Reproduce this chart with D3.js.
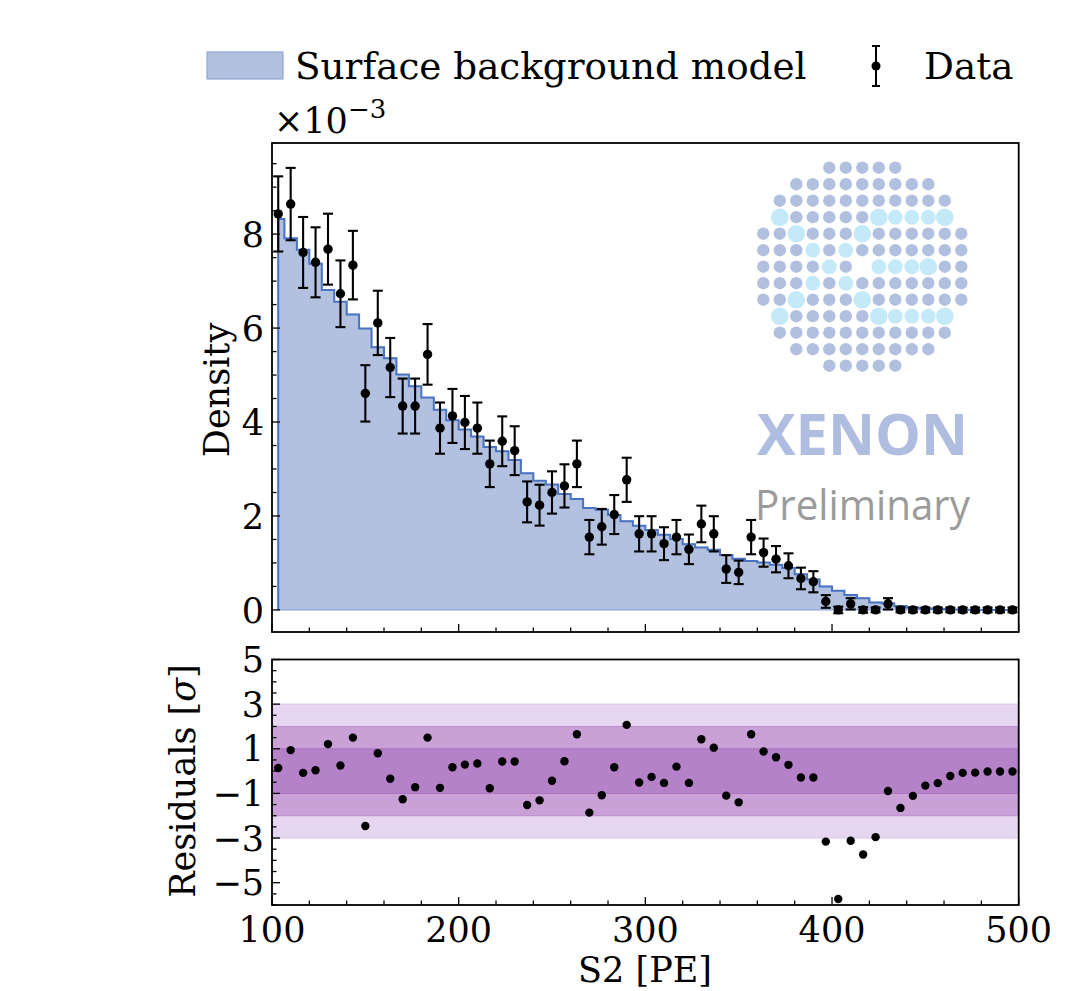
<!DOCTYPE html>
<html><head><meta charset="utf-8">
<script src="https://cdn.jsdelivr.net/npm/d3@7"></script>
<style>html,body{margin:0;padding:0;background:#fff}</style>
</head><body>
<svg id="c" width="1075" height="991"></svg>
<script>
// ---- data (density in units of 1e-3) ----
const binLo = 100, binHi = 500, nBins = 60;
const dataVals = [8.43,8.64,7.61,7.40,7.68,6.73,7.34,4.61,6.11,5.16,
  4.34,4.34,5.44,3.87,4.13,3.99,3.87,3.11,3.59,3.39,
  2.30,2.23,2.50,2.64,3.11,1.55,1.77,2.03,2.77,1.62,
  1.62,1.41,1.55,1.29,1.83,1.62,0.87,0.80,1.55,1.22,
  1.08,0.94,0.67,0.60,0.18,0.00,0.13,0.00,0.00,0.13,
  0,0,0,0,0,0,0,0,0,0];
const dataErr = [0.80,0.77,0.755,0.745,0.755,0.71,0.73,0.60,0.685,0.63,
  0.585,0.585,0.645,0.545,0.575,0.565,0.545,0.495,0.53,0.52,
  0.435,0.435,0.45,0.46,0.495,0.365,0.38,0.415,0.47,0.375,
  0.375,0.35,0.365,0.315,0.39,0.375,0.295,0.25,0.365,0.30,
  0.28,0.265,0.23,0.225,0.135,0.07,0.12,0.06,0.05,0.12,
  0.05,0.05,0.05,0.05,0.05,0.05,0.05,0.05,0.05,0.05];
const modelVals = [8.32,7.91,7.67,7.37,6.81,6.56,6.29,5.99,5.59,5.36,
  5.01,4.76,4.52,4.26,4.04,3.84,3.69,3.47,3.38,3.19,
  2.91,2.75,2.67,2.47,2.36,2.17,2.13,2.02,1.89,1.79,
  1.70,1.60,1.51,1.40,1.33,1.28,1.17,1.09,1.04,1.01,
  0.96,0.89,0.76,0.65,0.50,0.41,0.32,0.25,0.16,0.14,
  0.085,0.05,0.03,0.02,0.01,0.005,0,0,0,0];
const residVals = [0.14,0.94,-0.08,0.04,1.21,0.25,1.50,-2.46,0.80,-0.34,
  -1.26,-0.72,1.50,-0.75,0.17,0.29,0.34,-0.77,0.43,0.43,
  -1.52,-1.31,-0.43,0.44,1.65,-1.86,-1.08,0.17,2.07,-0.51,
  -0.26,-0.53,0.20,-0.53,1.43,1.05,-1.10,-1.40,1.65,0.88,
  0.62,0.28,-0.29,-0.29,-3.16,-5.73,-3.12,-3.74,-2.96,-0.89,
  -1.65,-1.11,-0.65,-0.54,-0.22,-0.08,-0.07,-0.02,-0.02,-0.02];
const xTicks = [100,200,300,400,500];
const yTicksTop = [0,2,4,6,8];
const yTicksRes = [5,3,1,-1,-3,-5];
const sigmaBands = [3,2,1];
// logo pattern: o = normal dot, L = light dot, B = big light dot
const logoRows = [
  "....ooooo....",
  "..ooooooooo..",
  ".ooooooooooo.",
  ".BoooooBLLLB.",
  "ooBoooBoooooo",
  "oooLoLooooooo",
  "ooooLo.LLLBoo",
  "oooLoLooooooo",
  "ooBoooBoooooo",
  ".BoooooBLLLB.",
  ".ooooooooooo.",
  "..ooooooooo..",
  "....ooooo...."];

const centers = d3.range(nBins).map(i => binLo + (i + 0.5) * (binHi - binLo) / nBins);

const svg = d3.select("#c");
const FONT = "DejaVu Serif";
const L = 272, R = 1018.7;
const x = d3.scaleLinear().domain([100, 500]).range([L, R]);
const yT = d3.scaleLinear().domain([-0.47, 9.94]).range([632, 143]);
const yR = d3.scaleLinear().domain([-6, 5]).range([905, 659.5]);

svg.append("rect").attr("width",1075).attr("height",991).attr("fill","#fff");

// ---- top panel ----
const gTop = svg.append("g");
const stepData = centers.map((c,i)=>({c, v: modelVals[i]}));
const area = d3.area().curve(d3.curveStep).x(d=>x(d.c)).y0(yT(0)).y1(d=>yT(d.v));
gTop.append("path").datum(stepData).attr("d", area)
  .attr("fill","#b1c1df").attr("stroke","#8ea8d8").attr("stroke-width",1.2);
const line = d3.line().curve(d3.curveStep).x(d=>x(d.c)).y(d=>yT(d.v));
gTop.append("path").datum([{c:centers[0],v:0}].concat(stepData)).attr("d", line)
  .attr("fill","none").attr("stroke","#4a74c2").attr("stroke-width",2);

// logo
const logo = gTop.append("g");
logoRows.forEach((row, r) => {
  row.split("").forEach((ch, cI) => {
    if (ch === ".") return;
    logo.append("circle")
      .attr("cx", 763.3 + cI * 16.5).attr("cy", 167.7 + r * 16.5)
      .attr("r", ch === "o" ? 6.2 : ch === "L" ? 7.4 : 8.8)
      .attr("fill", ch === "o" ? "#b2c0e0" : "#c4e9f9");
  });
});
gTop.append("text").attr("x",862.5).attr("y",455).attr("text-anchor","middle")
  .attr("font-family","Open Sans").attr("font-weight",700).attr("font-size",58)
  .attr("textLength",211).attr("lengthAdjust","spacingAndGlyphs")
  .attr("fill","#aebde0").text("XENON");
gTop.append("text").attr("x",862.5).attr("y",520).attr("text-anchor","middle")
  .attr("font-family","Open Sans").attr("font-size",42)
  .attr("textLength",215).attr("lengthAdjust","spacingAndGlyphs")
  .attr("fill","#9b9b9b").text("Preliminary");

// data points with error bars
const pts = gTop.append("g");
centers.forEach((c,i)=>{
  const cx = x(c), y0 = yT(dataVals[i]-dataErr[i]), y1 = yT(dataVals[i]+dataErr[i]);
  pts.append("line").attr("x1",cx).attr("x2",cx).attr("y1",y0).attr("y2",y1)
    .attr("stroke","#000").attr("stroke-width",2.1);
  [y0,y1].forEach(yy=>pts.append("line").attr("x1",cx-5).attr("x2",cx+5)
    .attr("y1",yy).attr("y2",yy).attr("stroke","#000").attr("stroke-width",2.1));
  pts.append("circle").attr("cx",cx).attr("cy",yT(dataVals[i])).attr("r",4.7).attr("fill","#000");
});

// top axes
const axT = svg.append("g");
axT.append("rect").attr("x",L).attr("y",143).attr("width",R-L).attr("height",632-143)
  .attr("fill","none").attr("stroke","#000").attr("stroke-width",1.8);
d3.range(0, 9.6, 0.5).forEach(v=>{
  const major = Math.abs(v/2 - Math.round(v/2))<1e-6;
  axT.append("line").attr("x1",L).attr("x2",L+(major?8:4.5)).attr("y1",yT(v)).attr("y2",yT(v))
    .attr("stroke","#000").attr("stroke-width",1.3);
});
yTicksTop.forEach(v=>axT.append("text").attr("x",264).attr("y",yT(v)).attr("dy","0.36em")
  .attr("text-anchor","end").attr("font-family",FONT).attr("font-size",35).text(v));
d3.range(100, 501, 20).forEach(v=>{
  const major = v % 100 === 0;
  axT.append("line").attr("x1",x(v)).attr("x2",x(v)).attr("y1",632).attr("y2",632-(major?8:4.5))
    .attr("stroke","#000").attr("stroke-width",1.3);
});
const mult = axT.append("text").attr("x",274).attr("y",133).attr("font-family",FONT).attr("font-size",35);
mult.append("tspan").text("×10");
mult.append("tspan").attr("dy",-15).attr("font-size",26).text("−3");
axT.append("text").attr("transform","translate(229,390) rotate(-90)").attr("text-anchor","middle")
  .attr("font-family",FONT).attr("font-size",35).text("Density");

// ---- residual panel ----
const res = svg.append("g");
const bandCol = {3:"#e7d6ef", 2:"#c9a1d7", 1:"#b582c9"};
const bandEdge = {3:"#dcc2e8", 2:"#bb8ccd", 1:"#ab74c1"};
sigmaBands.forEach(s=>{
  res.append("rect").attr("x",L).attr("width",R-L).attr("y",yR(s)).attr("height",yR(-s)-yR(s))
    .attr("fill",bandCol[s]).attr("stroke",bandEdge[s]).attr("stroke-width",1);
});
centers.forEach((c,i)=>{
  res.append("circle").attr("cx",x(c)).attr("cy",yR(residVals[i])).attr("r",4.2).attr("fill","#000");
});
res.append("rect").attr("x",L).attr("y",659.5).attr("width",R-L).attr("height",905-659.5)
  .attr("fill","none").attr("stroke","#000").attr("stroke-width",1.8);
d3.range(-6, 5.01, 0.5).forEach(v=>{
  const major = yTicksRes.includes(v);
  res.append("line").attr("x1",L).attr("x2",L+(major?8:4.5)).attr("y1",yR(v)).attr("y2",yR(v))
    .attr("stroke","#000").attr("stroke-width",1.3);
});
yTicksRes.forEach(v=>res.append("text").attr("x",264).attr("y",yR(v)).attr("dy","0.36em")
  .attr("text-anchor","end").attr("font-family",FONT).attr("font-size",35)
  .text(v<0 ? "−"+Math.abs(v) : v));
d3.range(100, 501, 20).forEach(v=>{
  const major = v % 100 === 0;
  res.append("line").attr("x1",x(v)).attr("x2",x(v)).attr("y1",905).attr("y2",905-(major?8:4.5))
    .attr("stroke","#000").attr("stroke-width",1.3);
});
xTicks.forEach(v=>res.append("text").attr("x",x(v)).attr("y",942).attr("text-anchor","middle")
  .attr("font-family",FONT).attr("font-size",35).text(v));
res.append("text").attr("transform","translate(195,781) rotate(-90)").attr("text-anchor","middle")
  .attr("font-family",FONT).attr("font-size",35)
  .html('Residuals [<tspan font-style="italic">σ</tspan>]');
res.append("text").attr("x",645).attr("y",982).attr("text-anchor","middle")
  .attr("font-family",FONT).attr("font-size",35).text("S2 [PE]");

// ---- legend ----
const leg = svg.append("g");
leg.append("rect").attr("x",207).attr("y",52).attr("width",76).attr("height",27)
  .attr("fill","#b1c1df").attr("stroke","#8ea8d8").attr("stroke-width",1.2);
leg.append("text").attr("x",295).attr("y",79).attr("font-family",FONT).attr("font-size",37.3)
  .text("Surface background model");
leg.append("line").attr("x1",876).attr("x2",876).attr("y1",46).attr("y2",86).attr("stroke","#000").attr("stroke-width",2);
[46,86].forEach(yy=>leg.append("line").attr("x1",872).attr("x2",880).attr("y1",yy).attr("y2",yy)
  .attr("stroke","#000").attr("stroke-width",2));
leg.append("circle").attr("cx",876).attr("cy",66).attr("r",4.5).attr("fill","#000");
leg.append("text").attr("x",924).attr("y",79).attr("font-family",FONT).attr("font-size",37.3).text("Data");
</script>
</body></html>
